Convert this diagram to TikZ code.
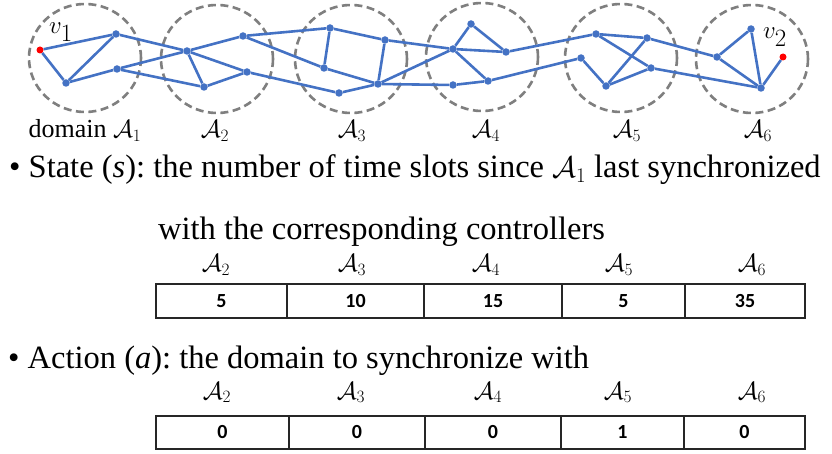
\documentclass[tikz,border=0pt]{standalone}
\usepackage{fontspec}
\setmainfont{Liberation Serif}
\newfontfamily\cellfont{Carlito}
\usetikzlibrary{backgrounds}
\definecolor{netblue}{HTML}{4472C4}
\definecolor{domgray}{HTML}{7F7F7F}
\newcommand{\dA}[1]{$\mathcal{A}_{#1}$}
\newcommand{\dAbig}[1]{$\scalebox{1.2}{$\mathcal{A}$}_{#1}$}
\frenchspacing
\begin{document}
\begin{tikzpicture}[x=1pt,y=-1pt,
  domainring/.style={draw=domgray, line width=2.6pt, dash pattern=on 8pt off 4.5pt},
  vtx/.style={circle, fill=netblue, inner sep=0pt, minimum size=7.5pt},
  endpt/.style={circle, fill=red, inner sep=0pt, minimum size=7pt},
  link/.style={draw=netblue, line width=2.6pt},
  dlabel/.style={font=\fontsize{26}{30}\selectfont, anchor=base, inner sep=0pt},
  vlabel/.style={font=\fontsize{36}{40}\selectfont, anchor=base west, inner sep=0pt},
  bodytext/.style={font=\fontsize{32.5}{38}\selectfont, anchor=base west, inner sep=0pt},
  cell/.style={draw=black!85, line width=1.2pt, inner sep=0pt,
    font=\cellfont\bfseries\fontsize{20}{24}\selectfont}]
\useasboundingbox (0,0) rectangle (832,454);

% ---- network vertices ----
\node[endpt] (v1) at (40,50) {};
\node[vtx] (n1a) at (116,34) {};
\node[vtx] (n1b) at (66,83) {};
\node[vtx] (n1c) at (117,69) {};
\node[vtx] (n2a) at (187,51) {};
\node[vtx] (n2b) at (243,36) {};
\node[vtx] (n2c) at (247,72) {};
\node[vtx] (n2d) at (204,87) {};
\node[vtx] (n3a) at (330,28) {};
\node[vtx] (n3b) at (385,40) {};
\node[vtx] (n3c) at (324,68) {};
\node[vtx] (n3d) at (339,93) {};
\node[vtx] (n3e) at (378,84) {};
\node[vtx] (n4a) at (471,24) {};
\node[vtx] (n4b) at (453,49) {};
\node[vtx] (n4c) at (506,52) {};
\node[vtx] (n4d) at (453,85) {};
\node[vtx] (n4e) at (488,81) {};
\node[vtx] (n5a) at (596,34) {};
\node[vtx] (n5b) at (647,38) {};
\node[vtx] (n5c) at (581,58) {};
\node[vtx] (n5d) at (651,68) {};
\node[vtx] (n5e) at (606,86) {};
\node[vtx] (n6a) at (751,29) {};
\node[vtx] (n6b) at (717,57) {};
\node[vtx] (n6d) at (761,88) {};
\node[endpt] (v2) at (783,57) {};

\begin{scope}[on background layer]
  % domains
  \foreach \cx/\cy in {85/58, 217/59, 351/59, 482/57, 621/58, 752/59}
    \draw[domainring] (\cx,\cy) ellipse [x radius=56, y radius=54];
  % links
  \foreach \p/\q in {v1/n1a, v1/n1b, n1b/n1a, n1b/n1c, n1a/n2a, n1c/n2a, n1c/n2d,
      n2a/n2b, n2a/n2d, n2a/n2c, n2d/n2c, n2b/n3a, n2b/n3c, n2c/n3d,
      n3a/n3c, n3a/n3b, n3b/n3e, n3c/n3e, n3d/n3e, n3e/n4b, n3e/n4d, n3b/n4b,
      n4b/n4c, n4b/n4a, n4a/n4c, n4b/n4e, n4d/n4e, n4c/n5a, n4e/n5c,
      n5a/n5b, n5a/n5d, n5c/n5e, n5e/n5b, n5e/n5d, n5b/n6b, n5d/n6d,
      n6b/n6a, n6b/n6d, n6a/n6d, n6d/v2}
    \draw[link] (\p) -- (\q);
\end{scope}

% ---- vertex and domain labels ----
\node[vlabel] (lv1) at (49,34) {$v_1$};
\node[vlabel] (lv2) at (763,39) {$v_2$};
\node[dlabel] (d1) at (85,138) {domain \dA{1}};
\node[dlabel] (d2) at (215,138) {\dA{2}};
\node[dlabel] (d3) at (352,138) {\dA{3}};
\node[dlabel] (d4) at (486,138) {\dA{4}};
\node[dlabel] (d5) at (627,138) {\dA{5}};
\node[dlabel] (d6) at (758,138) {\dA{6}};

% ---- state ----
\node[bodytext] (st1) at (9,178) {• State (\textit{s}): the number of time slots since \dAbig{1} last synchronized};
\node[bodytext] (st2) at (158,240) {with the corresponding controllers};
\node[dlabel] (sh2) at (216,272) {\dA{2}};
\node[dlabel] (sh3) at (352,272) {\dA{3}};
\node[dlabel] (sh4) at (486,272) {\dA{4}};
\node[dlabel] (sh5) at (619,272) {\dA{5}};
\node[dlabel] (sh6) at (752,272) {\dA{6}};
\node[cell, minimum width=131pt, minimum height=34pt] (s2) at (221.5,301) {5};
\node[cell, minimum width=137pt, minimum height=34pt] (s3) at (355.5,301) {10};
\node[cell, minimum width=138pt, minimum height=34pt] (s4) at (493,301) {15};
\node[cell, minimum width=123pt, minimum height=34pt] (s5) at (623.5,301) {5};
\node[cell, minimum width=120pt, minimum height=34pt] (s6) at (745,301) {35};

% ---- action ----
\node[bodytext] (ac1) at (8,368) {• Action (\textit{a}): the domain to synchronize with};
\node[dlabel] (ah2) at (217,399) {\dA{2}};
\node[dlabel] (ah3) at (351,399) {\dA{3}};
\node[dlabel] (ah4) at (488,399) {\dA{4}};
\node[dlabel] (ah5) at (618,399) {\dA{5}};
\node[dlabel] (ah6) at (752,399) {\dA{6}};
\node[cell, minimum width=133pt, minimum height=33pt] (t2) at (222.5,432.5) {0};
\node[cell, minimum width=136pt, minimum height=33pt] (t3) at (357,432.5) {0};
\node[cell, minimum width=136pt, minimum height=33pt] (t4) at (493,432.5) {0};
\node[cell, minimum width=123pt, minimum height=33pt] (t5) at (622.5,432.5) {1};
\node[cell, minimum width=121pt, minimum height=33pt] (t6) at (744.5,432.5) {0};
\end{tikzpicture}
\end{document}
